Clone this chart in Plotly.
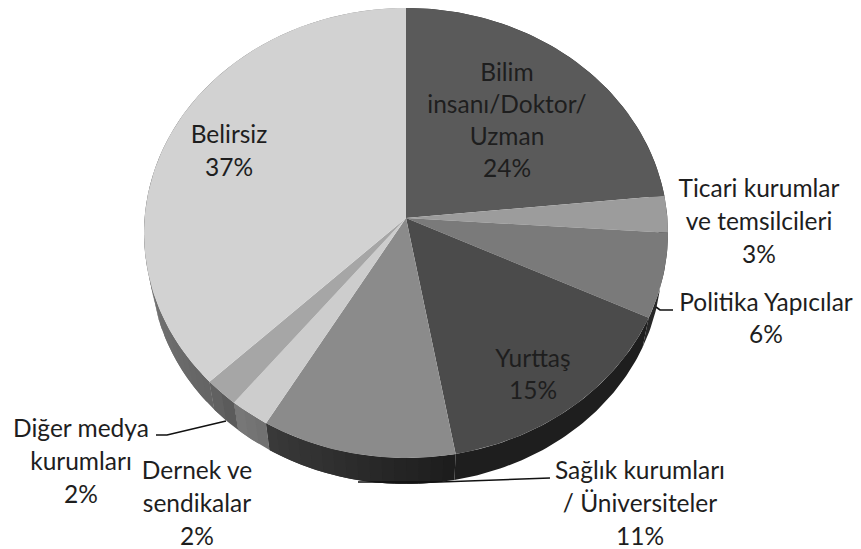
import math
import plotly.graph_objects as go

categories = ["Bilim insanı/Doktor/Uzman", "Ticari kurumlar ve temsilcileri", "Politika Yapıcılar",
              "Yurttaş", "Sağlık kurumları / Üniversiteler", "Dernek ve sendikalar",
              "Diğer medya kurumları", "Belirsiz"]
# Slice shares as measured on the picture
shares = [23.4, 2.65, 6.07, 15.04, 11.26, 2.3, 2.0, 37.28]
# Percentages as printed on the chart
printed = ["24%", "3%", "6%", "15%", "11%", "2%", "2%", "37%"]
face_colors = ["#5a5a5a", "#9c9c9c", "#7a7a7a", "#4b4b4b", "#8b8b8b", "#cdcdcd", "#a6a6a6", "#d2d2d2"]
side_from = [(40, 40, 40), (60, 60, 60), (40, 40, 40), (30, 30, 30), (28, 28, 28), (112, 112, 112), (88, 88, 88), (100, 100, 100)]
side_to = [(40, 40, 40), (60, 60, 60), (40, 40, 40), (30, 30, 30), (58, 58, 58), (120, 120, 120), (100, 100, 100), (170, 170, 170)]
label_lines = [["Bilim", "insanı/Doktor/", "Uzman"], ["Ticari kurumlar", "ve temsilcileri"], ["Politika Yapıcılar"],
               ["Yurttaş"], ["Sağlık kurumları", "/ Üniversiteler"], ["Dernek ve", "sendikalar"],
               ["Diğer medya", "kurumları"], ["Belirsiz"]]
label_x = [507, 759, 766, 533, 640, 197, 81, 229]
label_y = [75, 191, 305, 361, 473, 473, 431, 137]
line_gap = [32, 33, 32, 32, 33, 33, 33, 33]

CX, CY, R, A, K = 406.0, 218.0, 261.4, 224.0, 1 / 15
S, DY = 0.975, 32.0


def project(theta, lower=False):
    u, v = math.sin(theta), -math.cos(theta)
    d = 1 - K * v
    x, y = CX + R * u / d, CY + A * v / d
    if lower:
        x, y = CX + S * (x - CX), CY + DY + S * (y - CY)
    return x, y


total = sum(shares)
edges = [0.0]
for s in shares:
    edges.append(edges[-1] + s / total * 2 * math.pi)

fig = go.Figure()


def poly(points, color):
    fig.add_trace(go.Scatter(x=[p[0] for p in points], y=[p[1] for p in points], mode="lines",
                             fill="toself", fillcolor=color, line=dict(color=color, width=0),
                             hoverinfo="skip", showlegend=False))


def wall(t0, t1, color):
    steps = max(1, int((t1 - t0) / math.radians(1)))
    ts = [t0 + (t1 - t0) * j / steps for j in range(steps + 1)]
    poly([project(t) for t in ts] + [project(t, True) for t in reversed(ts)] + [project(t0)], color)


# Side wall: only the front half shows; each band overlaps the next so no seams appear
for i in range(len(shares)):
    a0, a1 = edges[i], edges[i + 1]
    same = side_from[i] == side_to[i]
    n = 1 if same else max(1, int((a1 - a0) / math.radians(2.5)))
    for j in range(n):
        t0 = a0 + (a1 - a0) * j / n
        t1 = a1 if j == n - 1 else a0 + (a1 - a0) * (j + 2) / n
        if t1 > a1:
            t1 = a1
        f = (j + 0.5) / n
        c = [round(side_from[i][k] + (side_to[i][k] - side_from[i][k]) * f) for k in range(3)]
        wall(t0, t1, f"rgb({c[0]},{c[1]},{c[2]})")

# Top faces
for i in range(len(shares)):
    a0, a1 = edges[i], edges[i + 1]
    n = max(4, int((a1 - a0) / math.radians(1)))
    pts = [(CX, CY)] + [project(a0 + (a1 - a0) * j / n) for j in range(n + 1)] + [(CX, CY)]
    poly(pts, face_colors[i])

# Leader lines
leaders = [([156, 167, 226], [435, 435, 421]), ([656, 660, 673], [307, 310, 310]), ([358, 440, 550], [482, 482, 478])]
for lx, ly in leaders:
    fig.add_trace(go.Scatter(x=lx, y=ly, mode="lines", line=dict(color="#111111", width=1.6),
                             hoverinfo="skip", showlegend=False))

# Labels
text_x, text_y, text_s = [], [], []
for lines, pct, x, y, gap in zip(label_lines, printed, label_x, label_y, line_gap):
    for k, t in enumerate(lines + [pct]):
        text_x.append(x)
        text_y.append(y + k * gap)
        text_s.append(t)
fig.add_trace(go.Scatter(x=text_x, y=text_y, text=text_s, mode="text", textposition="middle center",
                         textfont=dict(family="Lato", size=24.5, color="#1e1e1e"),
                         hoverinfo="skip", showlegend=False, cliponaxis=False))

fig.update_xaxes(range=[0, 861], visible=False, fixedrange=True)
fig.update_yaxes(range=[549, 0], visible=False, fixedrange=True)
fig.update_layout(width=861, height=549, margin=dict(l=0, r=0, t=0, b=0),
                  paper_bgcolor="white", plot_bgcolor="white", showlegend=False)
fig.write_html("out.html", config={"displayModeBar": False},
               post_script="document.body.style.margin='0';document.body.style.overflow='hidden';")
